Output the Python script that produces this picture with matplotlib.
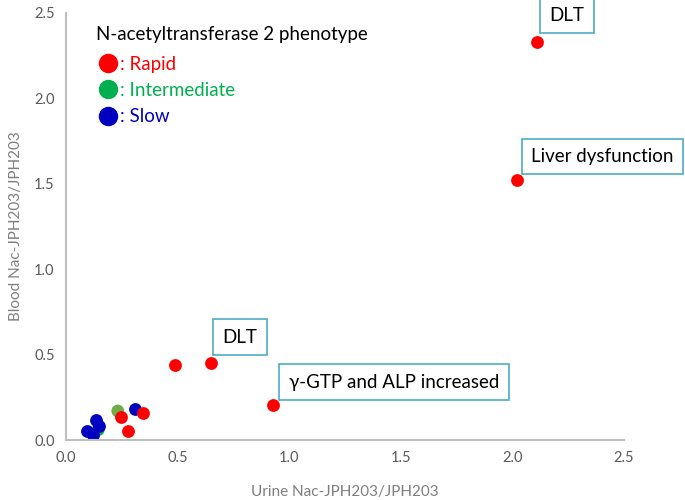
import matplotlib.pyplot as plt
from matplotlib.lines import Line2D

plt.rcParams["font.family"] = ["Lato", "DejaVu Sans"]

# Rapid acetylators
rapid_x = [2.11, 2.02, 0.49, 0.65, 0.93, 0.246, 0.28, 0.345]
rapid_y = [2.33, 1.52, 0.44, 0.45, 0.205, 0.135, 0.05, 0.16]
# Intermediate
inter_x = [0.233, 0.145]
inter_y = [0.17, 0.06]
# Slow
slow_x = [0.31, 0.135, 0.148, 0.095, 0.12]
slow_y = [0.18, 0.12, 0.08, 0.053, 0.03]

# annotations: (label, index into rapid arrays, text offset in points)
notes = [
    ("DLT", 0, (8.9, 13.2)),
    ("Liver dysfunction", 1, (10.4, 11.1)),
    ("DLT", 3, (8.2, 12.5)),
    ("γ-GTP and ALP increased", 4, (11.1, 10.4)),
]

RED = "#ff0000"
GREEN = "#00b050"
BLUE = "#0000c0"
GRAY = "#7f7f7f"
BOX = "#4bacc6"

fig = plt.figure(figsize=(6.85, 5.0), dpi=100)
ax = fig.add_axes([0.096, 0.12, 0.815, 0.854])

ax.scatter(rapid_x, rapid_y, s=85, color=RED, zorder=3, linewidths=0)
ax.scatter(inter_x, inter_y, s=85, color=["#70ad47", GREEN], zorder=2, linewidths=0)
ax.scatter(slow_x, slow_y, s=85, color=BLUE, zorder=2, linewidths=0)

for label, i, off in notes:
    ax.annotate(label, (rapid_x[i], rapid_y[i]), xytext=off, textcoords="offset points",
                fontsize=13.5, color="black", ha="left", va="bottom",
                bbox=dict(boxstyle="square,pad=0.5", fc="white", ec=BOX, lw=1.2))

ax.set_xlim(0, 2.5)
ax.set_ylim(0, 2.5)
ax.set_xticks([0, 0.5, 1.0, 1.5, 2.0, 2.5])
ax.set_yticks([0, 0.5, 1.0, 1.5, 2.0, 2.5])
ax.xaxis.set_major_formatter(plt.FormatStrFormatter("%.1f"))
ax.yaxis.set_major_formatter(plt.FormatStrFormatter("%.1f"))
ax.tick_params(length=0, labelsize=10.5, colors="#595959", pad=8)
for side in ["top", "right"]:
    ax.spines[side].set_visible(False)
for side in ["left", "bottom"]:
    ax.spines[side].set_color("#bfbfbf")
    ax.spines[side].set_linewidth(1.5)

ax.set_xlabel("Urine Nac-JPH203/JPH203", fontsize=11, color=GRAY, labelpad=14)
ax.set_ylabel("Blood Nac-JPH203/JPH203", fontsize=11, color=GRAY, labelpad=8)

handles = [Line2D([], [], marker="o", ls="", ms=14, color=c, mec="none") for c in (RED, GREEN, BLUE)]
leg = ax.legend(handles, [": Rapid", ": Intermediate", ": Slow"], loc="upper left",
                bbox_to_anchor=(0.03, 1.0), frameon=False, fontsize=13.5,
                labelcolor=[RED, GREEN, BLUE], handletextpad=0.0, handlelength=1.3,
                labelspacing=0.5, title="N-acetyltransferase 2 phenotype",
                title_fontsize=13.5, alignment="left", borderpad=0.2)
leg._legend_box.sep = 9

fig.savefig("out.png", dpi=100)
